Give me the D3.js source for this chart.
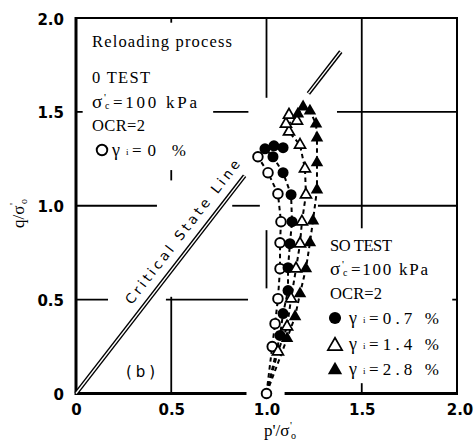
<!DOCTYPE html>
<html><head><meta charset="utf-8">
<script src="https://cdn.jsdelivr.net/npm/d3@7"></script>
<style>
html,body{margin:0;padding:0;background:#fff;}
svg{display:block;}
</style></head><body>
<svg id="chart" width="475" height="445"></svg>
<script>
// Effective stress paths during reloading: q/σ'o against p'/σ'o
const xTicks = [0, 0.5, 1.0, 1.5, 2.0];
const xTickLabels = ["0", "0.5", "1.0", "1.5", "2.0"];
const yTicks = [0, 0.5, 1.0, 1.5, 2.0];
const yTickLabels = ["0", "0.5", "1.0", "1.5", "2.0"];

const startP = 1.0, startQ = 0;   // state at the start of reloading
const cslSlope = 1.31;            // stress ratio M of the critical state line

// 0 TEST, γi = 0 %
const p0  = [1.0, 1.03, 1.045, 1.06, 1.071, 1.071, 1.076, 1.06, 1.008, 0.955];
const q0  = [0, 0.25, 0.372, 0.505, 0.665, 0.803, 0.915, 1.064, 1.176, 1.261];
// SO TEST, γi = 0.7 %
const p07 = [1.071, 1.087, 1.113, 1.113, 1.123, 1.134, 1.129, 1.087, 1.034, 0.992, 1.039, 1.087];
const q07 = [0.309, 0.426, 0.548, 0.670, 0.798, 0.915, 1.059, 1.176, 1.261, 1.303, 1.319, 1.309];
// SO TEST, γi = 1.4 %
const p14 = [1.060, 1.108, 1.129, 1.155, 1.176, 1.186, 1.207, 1.202, 1.176, 1.118, 1.102, 1.160, 1.118];
const q14 = [0.223, 0.356, 0.505, 0.665, 0.798, 0.915, 1.059, 1.197, 1.324, 1.394, 1.436, 1.452, 1.484];
// SO TEST, γi = 2.8 %
const p28 = [1.108, 1.150, 1.176, 1.207, 1.228, 1.244, 1.265, 1.265, 1.265, 1.260, 1.228, 1.192, 1.165];
const q28 = [0.293, 0.410, 0.532, 0.665, 0.803, 0.920, 1.085, 1.229, 1.362, 1.436, 1.505, 1.527, 1.489];

const svg = d3.select("#chart");
const x = d3.scaleLinear().domain([0, 2]).range([76, 457]);
const y = d3.scaleLinear().domain([0, 2]).range([393.5, 18]);

const serif = "'Liberation Serif', 'Times New Roman', serif";

// ---- grid fragments (broken where labels and data sit) ----
const hGrid = [
  [1.5, 0, 0.035], [1.5, 0.72, 0.905], [1.5, 1.37, 2],
  [1.0, 0, 0.425], [1.0, 0.82, 0.965], [1.0, 1.27, 2],
  [0.5, 0, 0.168], [0.5, 0.472, 0.903], [0.5, 1.975, 2]
];
const vGrid = [
  [0.5, 1.975, 2], [0.5, 1.135, 1.19], [0.5, 0, 0.515],
  [1.0, 1.575, 2], [1.0, 0.56, 0.87],
  [1.5, 0.88, 2], [1.5, 0, 0.055]
];
const grid = svg.append("g").attr("stroke", "#000").attr("stroke-width", 1.8);
hGrid.forEach(([q, a, b]) => grid.append("line")
  .attr("x1", x(a)).attr("x2", x(b)).attr("y1", y(q)).attr("y2", y(q)));
vGrid.forEach(([p, a, b]) => grid.append("line")
  .attr("x1", x(p)).attr("x2", x(p)).attr("y1", y(a)).attr("y2", y(b)));

// ---- frame ----
const frame = svg.append("g").attr("stroke", "#000").attr("fill", "none");
frame.append("line").attr("x1", x(0)).attr("x2", x(2)).attr("y1", y(2)).attr("y2", y(2)).attr("stroke-width", 2);
frame.append("line").attr("x1", x(2)).attr("x2", x(2)).attr("y1", y(2) - 1).attr("y2", y(0) + 1.5).attr("stroke-width", 2);
frame.append("line").attr("x1", x(0)).attr("x2", x(0)).attr("y1", y(2) - 1).attr("y2", y(0) + 1.5).attr("stroke-width", 3);
frame.append("line").attr("x1", x(0)).attr("x2", x(0.895)).attr("y1", y(0)).attr("y2", y(0)).attr("stroke-width", 3);
frame.append("line").attr("x1", x(1.095)).attr("x2", x(2) + 1).attr("y1", y(0)).attr("y2", y(0)).attr("stroke-width", 3);

// ---- tick labels via d3 axes ----
const tickFont = "'DejaVu Sans', sans-serif";
const xAxis = svg.append("g").attr("transform", `translate(0,${y(0)})`)
  .call(d3.axisBottom(x).tickValues(xTicks).tickSize(0).tickPadding(11)
    .tickFormat((d, i) => xTickLabels[i]));
xAxis.select(".domain").remove();
xAxis.selectAll("text").attr("font-family", tickFont).attr("font-weight", "bold")
  .attr("font-size", 15).attr("fill", "#000");
xAxis.selectAll(".tick").filter(d => d === 2).attr("transform", `translate(${x(2) + 3},0)`);

const yAxis = svg.append("g").attr("transform", `translate(${x(0)},0)`)
  .call(d3.axisLeft(y).tickValues(yTicks).tickSize(0).tickPadding(12)
    .tickFormat((d, i) => yTickLabels[i]));
yAxis.select(".domain").remove();
yAxis.selectAll("text").attr("font-family", tickFont).attr("font-weight", "bold")
  .attr("font-size", 15).attr("fill", "#000").attr("dy", "0.4em");

// ---- critical state line (double line) ----
const csl = svg.append("g");
[[0, 0.885], [1.22, 1.39]].forEach(([a, b]) => {
  const seg = [[a, a * cslSlope], [b, b * cslSlope]];
  const ln = d3.line().x(d => x(d[0])).y(d => y(d[1]));
  csl.append("path").attr("d", ln(seg)).attr("stroke", "#000").attr("stroke-width", 4.2).attr("fill", "none");
  csl.append("path").attr("d", ln(seg)).attr("stroke", "#fff").attr("stroke-width", 1.4).attr("fill", "none");
});
{
  const ang = Math.atan2(y(cslSlope) - y(0), x(1) - x(0));
  const pm = 0.62;
  const px = x(pm), py = y(pm * cslSlope);
  const nx = Math.sin(ang), ny = -Math.cos(ang); // normal toward upper-left
  const off = 15;
  svg.append("text")
    .attr("transform", `translate(${px + nx * off},${py + ny * off}) rotate(${ang * 180 / Math.PI})`)
    .attr("text-anchor", "middle").attr("dominant-baseline", "central")
    .attr("font-family", "'DejaVu Sans', sans-serif").attr("font-size", 13.5)
    .attr("textLength", 178).attr("lengthAdjust", "spacing")
    .text("Critical State Line");
}

// ---- stress paths ----
const pathLine = d3.line().x(d => x(d[0])).y(d => y(d[1]));
const seriesList = [
  { p: p0,  q: q0,  kind: "circleOpen", fromStart: false },
  { p: p07, q: q07, kind: "circleFilled", fromStart: true },
  { p: p14, q: q14, kind: "triOpen", fromStart: true },
  { p: p28, q: q28, kind: "triFilled", fromStart: true }
];
const lines = svg.append("g").attr("fill", "none").attr("stroke", "#000")
  .attr("stroke-width", 2).attr("stroke-dasharray", "4.5,3.5");
seriesList.forEach(s => {
  const pts = s.p.map((v, i) => [v, s.q[i]]);
  if (s.fromStart) pts.unshift([startP, startQ]);
  lines.append("path").attr("d", pathLine(pts));
});

function drawMarker(g, kind, cx, cy, scale = 1) {
  if (kind === "circleOpen") {
    g.append("circle").attr("cx", cx).attr("cy", cy).attr("r", 4.8 * scale)
      .attr("fill", "#fff").attr("stroke", "#000").attr("stroke-width", 1.9);
  } else if (kind === "circleFilled") {
    g.append("circle").attr("cx", cx).attr("cy", cy).attr("r", 5.5 * scale).attr("fill", "#000");
  } else if (kind === "triOpen") {
    const s = 11 * scale;
    g.append("path").attr("d", d3.symbol(d3.symbolTriangle, Math.sqrt(3) / 4 * s * s)())
      .attr("transform", `translate(${cx},${cy})`)
      .attr("fill", "#fff").attr("stroke", "#000").attr("stroke-width", 1.7);
  } else {
    const s = 12.5 * scale;
    g.append("path").attr("d", d3.symbol(d3.symbolTriangle, Math.sqrt(3) / 4 * s * s)())
      .attr("transform", `translate(${cx},${cy})`).attr("fill", "#000");
  }
}
const marks = svg.append("g");
seriesList.forEach(s => {
  s.p.forEach((v, i) => drawMarker(marks, s.kind, x(v), y(s.q[i])));
});

// ---- annotation text ----
function put(xp, yp, str, size, len, family = serif) {
  const t = svg.append("text").attr("x", xp).attr("y", yp)
    .attr("font-family", family).attr("font-size", size).attr("fill", "#000").text(str);
  if (len) t.attr("textLength", len).attr("lengthAdjust", "spacing");
  return t;
}
function sigmaC(xp, yp, restLen) {
  put(xp, yp, "σ", 19);
  put(xp + 12, yp - 7, "'", 11);
  put(xp + 13, yp + 1, "c", 10);
  put(xp + 21, yp, "=100 kPa", 17, restLen);
}
function gammaI(xp, yp, rest, restLen) {
  put(xp, yp, "γ", 18);
  put(xp + 14, yp - 1, "i", 9);
  put(xp + 20, yp, rest, 17, restLen);
}

put(92, 47, "Reloading process", 16.5, 140);
put(92, 83, "0 TEST", 16.5, 58);
sigmaC(92, 108, 84);
put(92, 131, "OCR=2", 16.5, 53);
drawMarker(svg, "circleOpen", 102, 150, 1.1);
gammaI(112, 156, "=0 %", 54);

put(330, 251, "SO TEST", 16.5, 62);
sigmaC(330, 275, 77);
put(330, 299, "OCR=2", 16.5, 52);
drawMarker(svg, "circleFilled", 335, 318, 1.1);
gammaI(349, 324, "=0.7 %", 70);
drawMarker(svg, "triOpen", 335, 346, 1.3);
gammaI(349, 350, "=1.4 %", 70);
drawMarker(svg, "triFilled", 335, 370, 1.15);
gammaI(349, 375, "=2.8 %", 70);

put(126, 377, "(b)", 15, 29, "'DejaVu Sans', sans-serif");

// axis titles: symbol, prime and subscript placed as separate pieces
function ratioTitle(g, head, w) {
  g.append("text").attr("x", 0).attr("y", 0).attr("font-family", serif).attr("font-size", 17).text(head);
  g.append("text").attr("x", w).attr("y", -7).attr("font-family", serif).attr("font-size", 11).text("'");
  g.append("text").attr("x", w + 1).attr("y", 3).attr("font-family", serif).attr("font-size", 10).text("o");
}
ratioTitle(svg.append("g").attr("transform", "translate(264,436)"), "p'/σ", 26);
ratioTitle(svg.append("g").attr("transform", "translate(24,228) rotate(-90)"), "q/σ", 23);
</script>
</body></html>
